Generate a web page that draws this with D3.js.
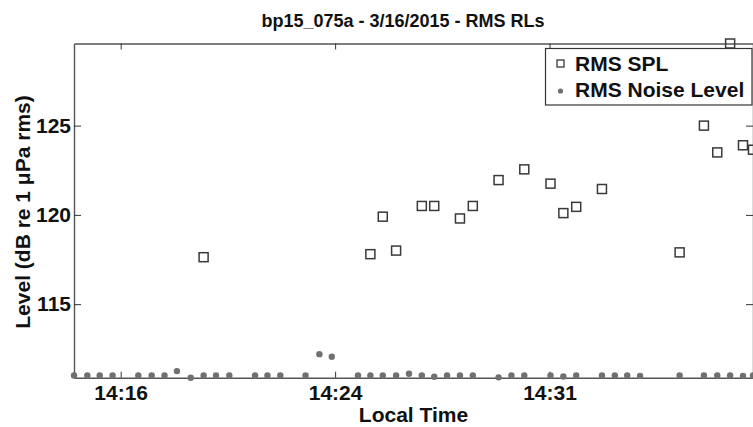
<!DOCTYPE html>
<html>
<head>
<meta charset="utf-8">
<script src="https://cdn.jsdelivr.net/npm/d3@7"></script>
<style>
  body { margin: 0; background: #fff; }
  text { font-family: "Liberation Sans", Arial, sans-serif; font-weight: bold; }
</style>
</head>
<body>
<div id="chart"></div>
<script>
// data (local time, dB re 1 uPa rms)
var noiseTimes = ["14:14:52","14:15:20","14:15:46","14:16:13","14:17:07","14:17:35","14:18:02","14:18:28",
  "14:18:57","14:19:24","14:19:50","14:20:18","14:21:12","14:21:38","14:22:05","14:22:58","14:23:27",
  "14:23:53","14:24:48","14:25:14","14:25:40","14:26:08","14:26:35","14:27:02","14:27:28","14:27:55",
  "14:28:22","14:28:49","14:29:43","14:30:10","14:30:37","14:31:32","14:31:59","14:32:26","14:33:20",
  "14:33:47","14:34:13","14:34:40","14:36:03","14:36:54","14:37:22","14:37:49","14:38:16","14:38:37"];
var noiseLevels = [111.0,111.0,111.0,111.0,111.0,111.0,111.0,111.25,
  110.88,111.0,111.0,111.0,111.0,111.0,111.0,111.0,112.2,
  112.05,111.0,111.0,111.0,111.0,111.1,111.0,110.93,111.0,
  111.0,111.0,110.9,111.0,111.0,111.0,110.95,111.0,111.0,
  111.0,111.0,110.98,111.0,111.0,111.0,111.0,110.98,111.0];

var splTimes = ["14:19:24","14:25:14","14:25:40","14:26:08","14:27:02","14:27:28","14:28:22","14:28:49",
  "14:29:43","14:30:37","14:31:32","14:31:59","14:32:26","14:33:20","14:36:03","14:36:54","14:37:22",
  "14:37:49","14:38:16","14:38:37"];
var splLevels = [117.63,117.8,119.9,118.0,120.5,120.5,119.8,120.5,
  121.95,122.55,121.75,120.1,120.45,121.45,117.9,125.0,123.5,
  129.6,123.9,123.65];

var xTicks = ["14:16:30","14:24:00","14:31:30"];
var yTicks = [115, 120, 125];

var parseTime = d3.timeParse("%H:%M:%S");

// set the dimensions and margins of the graph
var margin = {top: 43.5, right: 0, bottom: 49.3, left: 74},
    width = 753 - margin.left - margin.right,
    height = 427 - margin.top - margin.bottom;

var svgRoot = d3.select("#chart")
  .append("svg")
    .attr("width", 753)
    .attr("height", 427);

var svg = svgRoot.append("g")
    .attr("transform", "translate(" + margin.left + "," + margin.top + ")");

var noise = noiseTimes.map(function(t, i) { return {t: parseTime(t), v: noiseLevels[i]}; });
var spl = splTimes.map(function(t, i) { return {t: parseTime(t), v: splLevels[i]}; });

// axis tight, like the original
var x = d3.scaleTime()
  .domain(d3.extent(noise.concat(spl), function(d) { return d.t; }))
  .range([0, width]);

var y = d3.scaleLinear()
  .domain([d3.min(noiseLevels), d3.max(splLevels)])
  .range([height, 0]);

var axisColor = "#555";

function styleAxis(g) {
  g.selectAll("path").attr("stroke", axisColor).attr("stroke-width", 1.4);
  g.selectAll("line").attr("stroke", "#333").attr("stroke-width", 1);
  g.selectAll("text").attr("fill", "#111").style("font-size", "21px").attr("font-family", null);
}

// bottom axis
svg.append("g")
  .attr("transform", "translate(0," + height + ")")
  .call(d3.axisBottom(x)
    .tickValues(xTicks.map(parseTime))
    .tickFormat(d3.timeFormat("%H:%M"))
    .tickSizeInner(-6).tickSizeOuter(0).tickPadding(7))
  .call(styleAxis);

// top axis
svg.append("g")
  .call(d3.axisTop(x)
    .tickValues(xTicks.map(parseTime))
    .tickFormat("")
    .tickSizeInner(-6).tickSizeOuter(0))
  .call(styleAxis);

// left axis
svg.append("g")
  .call(d3.axisLeft(y)
    .tickValues(yTicks)
    .tickFormat(d3.format("d"))
    .tickSizeInner(-7).tickSizeOuter(0).tickPadding(3))
  .call(styleAxis);

// right axis
svg.append("g")
  .attr("transform", "translate(" + width + ",0)")
  .call(d3.axisRight(y)
    .tickValues(yTicks)
    .tickFormat("")
    .tickSizeInner(-7).tickSizeOuter(0))
  .call(styleAxis);

// noise level dots
svg.append("g")
  .selectAll("circle")
  .data(noise)
  .enter().append("circle")
    .attr("cx", function(d) { return x(d.t); })
    .attr("cy", function(d) { return y(d.v); })
    .attr("r", 3.2)
    .attr("fill", "#707070");

// SPL squares
var sq = 9;
svg.append("g")
  .selectAll("rect")
  .data(spl)
  .enter().append("rect")
    .attr("x", function(d) { return x(d.t) - sq / 2; })
    .attr("y", function(d) { return y(d.v) - sq / 2; })
    .attr("width", sq)
    .attr("height", sq)
    .attr("fill", "none")
    .attr("stroke", "#3a3a3a")
    .attr("stroke-width", 1.5);

// title and labels
svgRoot.append("text")
  .attr("x", 403)
  .attr("y", 27)
  .attr("text-anchor", "middle")
  .style("font-size", "18px")
  .attr("fill", "#111")
  .text("bp15_075a - 3/16/2015 - RMS RLs");

svgRoot.append("text")
  .attr("x", margin.left + width / 2)
  .attr("y", 422)
  .attr("text-anchor", "middle")
  .style("font-size", "21px")
  .attr("fill", "#111")
  .text("Local Time");

svgRoot.append("text")
  .attr("transform", "translate(30,212) rotate(-90)")
  .attr("text-anchor", "middle")
  .style("font-size", "21px")
  .attr("fill", "#111")
  .text("Level (dB re 1 \u03bcPa rms)");

// legend
var legend = svgRoot.append("g");
legend.append("rect")
  .attr("x", 545.5).attr("y", 48.5)
  .attr("width", 206.5).attr("height", 56.5)
  .attr("fill", "#fff")
  .attr("stroke", "#333")
  .attr("stroke-width", 1.2);
legend.append("rect")
  .attr("x", 557).attr("y", 60)
  .attr("width", 7).attr("height", 7)
  .attr("fill", "none")
  .attr("stroke", "#3a3a3a")
  .attr("stroke-width", 1.3);
legend.append("circle")
  .attr("cx", 560.5).attr("cy", 91)
  .attr("r", 2.6)
  .attr("fill", "#707070");
legend.append("text")
  .attr("x", 575).attr("y", 71)
  .style("font-size", "21px")
  .attr("fill", "#111")
  .text("RMS SPL");
legend.append("text")
  .attr("x", 575).attr("y", 97)
  .style("font-size", "21px")
  .attr("fill", "#111")
  .text("RMS Noise Level");
</script>
</body>
</html>
